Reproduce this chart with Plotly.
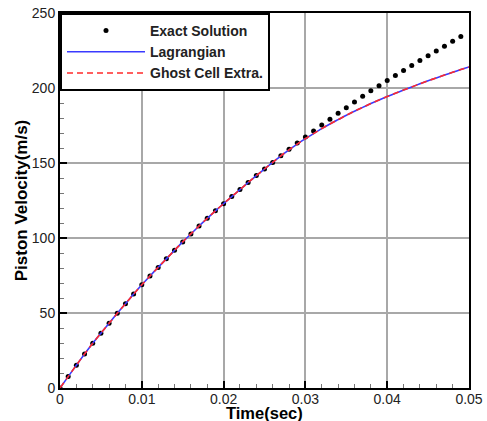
import plotly.graph_objects as go

# Exact solution samples (every 0.001 s)
t_exact = [round(i * 0.001, 3) for i in range(0, 50)]
v_exact = [0.0, 7.6, 15.2, 22.6, 29.8, 36.5, 43.1, 49.8, 56.2, 62.6,
           68.8, 74.7, 80.4, 86.1, 91.8, 97.4, 102.7, 108.0, 113.1, 118.1,
           122.9, 127.6, 132.3, 137.0, 141.6, 146.0, 150.4, 154.8, 159.2, 163.4,
           167.3, 171.3, 175.3, 179.2, 183.1, 186.9, 190.7, 194.5, 198.1, 201.5,
           205.0, 208.4, 211.7, 215.0, 218.3, 221.5, 224.7, 227.9, 231.1, 234.4]

# Numerical solutions (every 0.001 s)
t_num = [round(i * 0.001, 3) for i in range(0, 51)]
v_lagrangian = [0.0, 7.6, 15.2, 22.6, 29.8, 36.5, 43.1, 49.8, 56.2, 62.6,
                68.8, 74.7, 80.4, 86.1, 91.8, 97.4, 102.7, 108.0, 113.1, 118.1,
                122.9, 127.6, 132.3, 137.0, 141.6, 146.0, 150.4, 154.8, 158.8, 162.6,
                166.2, 169.6, 172.9, 176.0, 178.9, 181.8, 184.5, 187.1, 189.6, 192.0,
                194.3, 196.5, 198.6, 200.7, 202.8, 204.8, 206.7, 208.6, 210.5, 212.3,
                214.0]
v_ghost = list(v_lagrangian)

x_ticks = [0, 0.01, 0.02, 0.03, 0.04, 0.05]
x_ticklabels = ["0", "0.01", "0.02", "0.03", "0.04", "0.05"]
y_ticks = [0, 50, 100, 150, 200, 250]
y_ticklabels = ["0", "50", "100", "150", "200", "250"]
x_title = "Time(sec)"
y_title = "Piston Velocity(m/s)"

font_family = "Liberation Sans, Arial, sans-serif"

fig = go.Figure()
fig.add_trace(go.Scatter(
    x=t_exact, y=v_exact, mode="markers", name="<b>Exact Solution</b>",
    marker=dict(color="black", size=5),
))
fig.add_trace(go.Scatter(
    x=t_num, y=v_lagrangian, mode="lines", name="<b>Lagrangian</b>",
    line=dict(color="#3a3aff", width=1.6, shape="spline", smoothing=0.6),
))
fig.add_trace(go.Scatter(
    x=t_num, y=v_ghost, mode="lines", name="<b>Ghost Cell Extra.</b>",
    line=dict(color="#ff2a2a", width=1.6, dash="6px,4px", shape="spline", smoothing=0.6),
))

axis_common = dict(
    showline=True, linecolor="black", linewidth=2, mirror=True,
    ticks="inside", ticklen=7, tickwidth=2, tickcolor="black",
    showgrid=True, gridcolor="#a8a8a8", gridwidth=1.5,
    zeroline=False, automargin=False, ticklabeloverflow="allow",
    tickfont=dict(family=font_family, size=14, color="#222"),
    title_font=dict(family=font_family, size=17, color="black"),
)

fig.update_xaxes(
    range=[0, 0.05], tickvals=x_ticks, ticktext=x_ticklabels,
    ticklabelstandoff=-3,
    minor=dict(dtick=0.002, ticks="inside", ticklen=4, tickcolor="#777", tickwidth=1, showgrid=False),
    **axis_common,
)
fig.update_yaxes(
    range=[0, 250], tickvals=y_ticks, ticktext=y_ticklabels,
    title_text="<b>" + y_title + "</b>", title_standoff=0,
    minor=dict(dtick=10, ticks="inside", ticklen=4, tickcolor="#777", tickwidth=1, showgrid=False),
    **axis_common,
)

fig.add_annotation(
    text="<b>" + x_title + "</b>", xref="paper", yref="paper", x=0.5, y=0,
    xanchor="center", yanchor="middle", yshift=-25, showarrow=False,
    font=dict(family=font_family, size=16.5, color="black"),
)

fig.update_layout(
    width=487, height=421,
    margin=dict(l=60, r=18, t=13, b=33),
    plot_bgcolor="white", paper_bgcolor="white",
    legend=dict(
        x=0, y=1, xanchor="left", yanchor="top",
        bgcolor="white", bordercolor="black", borderwidth=2,
        font=dict(family=font_family, size=14, color="#222"),
        itemwidth=78, tracegroupgap=0,
    ),
    showlegend=True,
)

fig.write_html(
    "out.html",
    config={"displayModeBar": False},
    post_script="document.body.style.margin='0';document.body.style.overflow='hidden';",
)
